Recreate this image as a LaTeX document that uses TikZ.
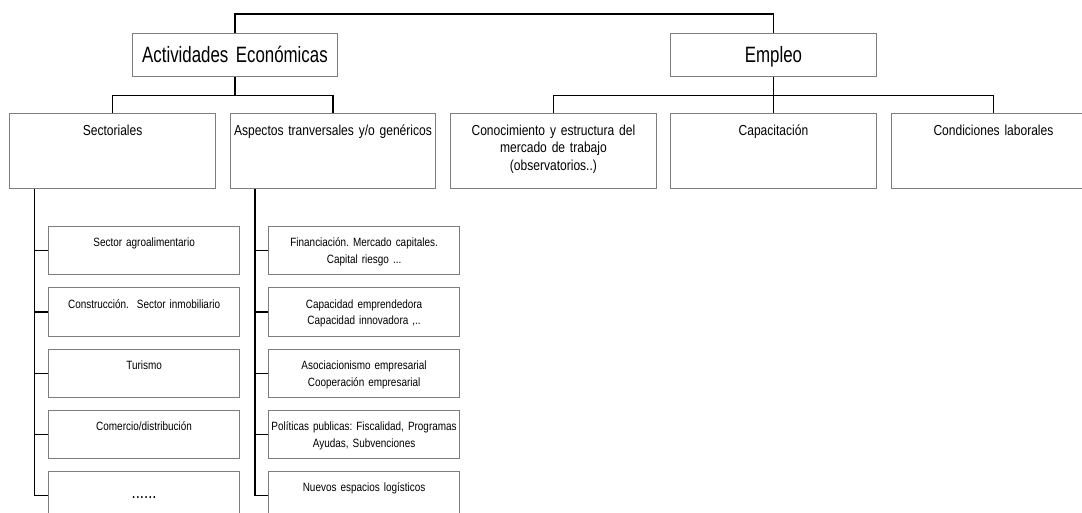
\documentclass[tikz,border=0pt]{standalone}
\usepackage{fontspec}
\setmainfont{Liberation Sans}
\newfontfamily\fA[FakeStretch=0.76,WordSpace=0.85]{Liberation Sans}
\newfontfamily\fB[FakeStretch=0.83,WordSpace=0.8]{Liberation Sans}
\definecolor{boxgray}{RGB}{125,125,125}
\begin{document}
\frenchspacing
\begin{tikzpicture}[x=1pt,y=-1pt,
 box/.style={draw=boxgray, line width=0.9pt, inner sep=0pt, anchor=north west, align=center},
 conn/.style={draw=black, line width=1.2pt},
 lvlA/.style={box, font=\fA\fontsize{22.2}{26}\selectfont, text height=29pt, text depth=13.7pt},
 lvlB/.style={box, font=\fB\fontsize{14.5}{17.5}\selectfont, text height=21.7pt, text depth=53.3pt},
 lvlC/.style={box, font=\fB\fontsize{12}{16.7}\selectfont, text height=20.5pt, text depth=27.8pt},
]
\useasboundingbox (0,0) rectangle (1082,513);
\clip (0,0) rectangle (1082,513);

% level 1
\node[lvlA, text width=205.6pt] (ae) at (131.7,33.3) {Actividades Económicas};
\node[lvlA, text width=206pt] (emp) at (670,33.3) {Empleo};

% level 2
\node[lvlB, text width=205.7pt] (sect) at (9.3,113.3) {Sectoriales};
\node[lvlB, text width=205pt] (asp) at (230,113.3) {Aspectos tranversales y/o genéricos};
\node[lvlB, text width=206pt] (con) at (450,113.3) {Conocimiento y estructura del\\mercado de trabajo\\(observatorios..)};
\node[lvlB, text width=206pt] (cap) at (670,113.3) {Capacitación};
\node[lvlB, text width=204.6pt] (cond) at (890.7,113.3) {Condiciones laborales};

% children of Sectoriales
\node[lvlC, text width=190.7pt] (s1) at (48.3,226) {Sector agroalimentario};
\node[lvlC, text width=190.7pt] (s2) at (48.3,287.3) {Construcción.\ \ Sector inmobiliario};
\node[lvlC, text width=190.7pt] (s3) at (48.3,348.7) {Turismo};
\node[lvlC, text width=190.7pt] (s4) at (48.3,410) {Comercio/distribución};
\node[lvlC, text width=190.7pt, font=\fB\fontsize{18}{20}\selectfont, text height=27pt, text depth=21.3pt] (s5) at (48.3,471) {......};

% children of Aspectos
\node[lvlC, text width=190.7pt] (a1) at (268.3,226) {Financiación. Mercado capitales.\\Capital riesgo ...};
\node[lvlC, text width=190.7pt] (a2) at (268.3,287.3) {Capacidad emprendedora\\Capacidad innovadora ,..};
\node[lvlC, text width=190.7pt] (a3) at (268.3,348.7) {Asociacionismo empresarial\\Cooperación empresarial};
\node[lvlC, text width=190.7pt] (a4) at (268.3,410) {Políticas publicas: Fiscalidad, Programas\\Ayudas, Subvenciones};
\node[lvlC, text width=190.7pt] (a5) at (268.3,471) {Nuevos espacios logísticos};

% connectors
\draw[conn] (ae.north) -- ++(0,-19.3) -| (emp.north);
\draw[conn] (ae.south) -- ++(0,19) coordinate (aeb);
\draw[conn] (sect.north) |- (aeb) -| (asp.north);
\draw[conn] (emp.south) -- ++(0,19) coordinate (eb);
\draw[conn] (con.north) |- (eb) -| (cond.north);
\draw[conn] (eb) -- (cap.north);

\coordinate (sp1) at ([xshift=25pt]sect.south west);
\draw[conn] (sp1) |- (s5.west);
\foreach \n in {s1,s2,s3,s4} \draw[conn] (\n.west) -- (\n.west -| sp1);

\coordinate (sp2) at ([xshift=25pt]asp.south west);
\draw[conn] (sp2) |- (a5.west);
\foreach \n in {a1,a2,a3,a4} \draw[conn] (\n.west) -- (\n.west -| sp2);
\end{tikzpicture}
\end{document}
